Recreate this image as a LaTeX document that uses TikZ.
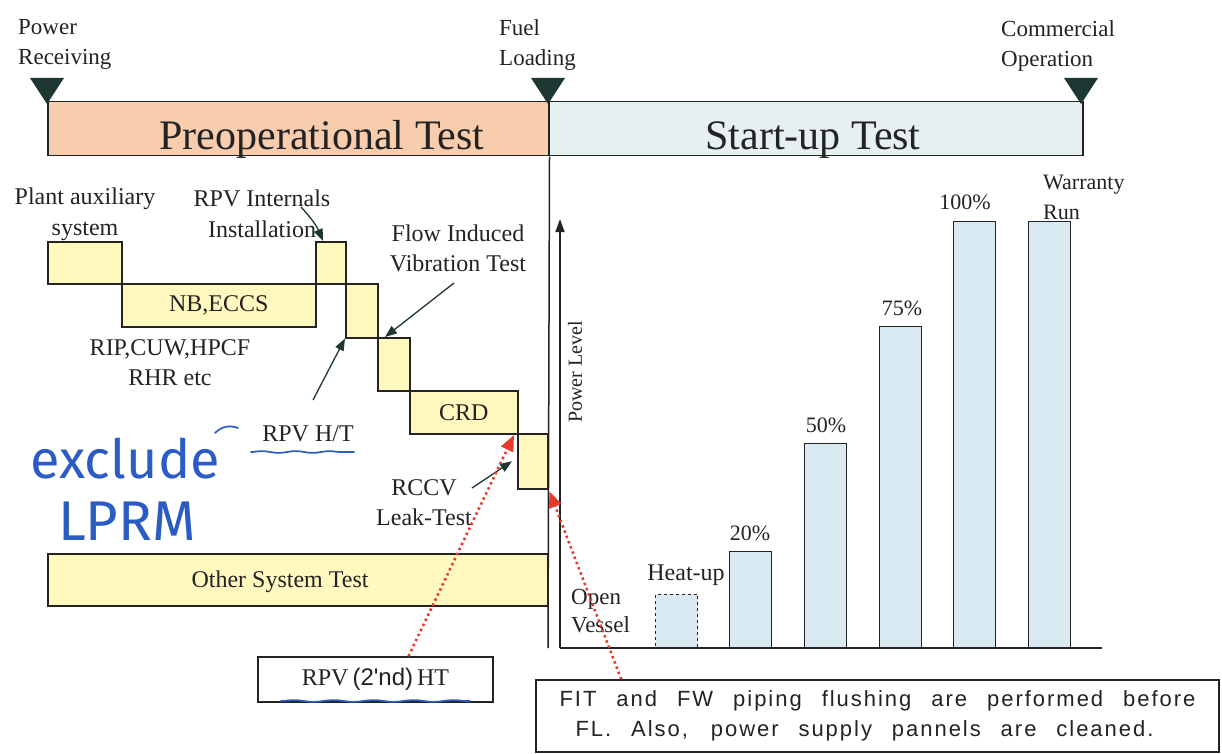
\documentclass[tikz,border=0pt]{standalone}
\usepackage{fontspec}
\setmainfont{Liberation Serif}
\newfontfamily\notefont{Liberation Sans}
\newfontfamily\spacednote[LetterSpace=9]{Liberation Sans}
\newfontfamily\inkfont{Fira Sans}
\usetikzlibrary{arrows.meta,decorations.pathmorphing,calc}
\definecolor{ink}{HTML}{232323}
\definecolor{peach}{HTML}{F7CDAE}
\definecolor{paleblue}{HTML}{E6F0F3}
\definecolor{barblue}{HTML}{D8E9F1}
\definecolor{pyellow}{HTML}{FFF8BF}
\definecolor{marker}{HTML}{1D3833}
\definecolor{redink}{HTML}{E63B2B}
\definecolor{pen}{HTML}{2A5CC4}
\begin{document}
\begin{tikzpicture}[x=1pt,y=-1pt,
  every node/.style={text=ink},
  frame/.style={draw=ink, line width=1.5, inner sep=0, anchor=north west},
  ybox/.style={frame, fill=pyellow},
  bar/.style={draw=ink, line width=1.4, fill=barblue, inner sep=0, anchor=south west, minimum width=42},
  lbl/.style={font=\fontsize{24}{31}\selectfont, align=center, inner sep=0},
  toplbl/.style={font=\fontsize{23}{30}\selectfont, align=left, inner sep=0, anchor=west},
  pct/.style={font=\fontsize{22}{28}\selectfont, inner sep=0},
  phase/.style={font=\fontsize{42}{50}\selectfont, inner sep=0, anchor=base},
  pointer/.style={draw=marker, line width=1.3, -{Triangle[length=12,width=9]}},
  redpointer/.style={draw=redink, line width=2.6, dash pattern=on 2.4 off 3.2, -{Triangle[length=16,width=13]}},
  scrawl/.style={draw=pen, line width=1.7, line cap=round}
]
% canvas
\path[use as bounding box, fill=white] (0,0) rectangle (1222,754);

% ---------- milestone bar ----------
\node[frame, fill=peach, minimum width=501, minimum height=54] (preop) at (47,101) {};
\node[frame, fill=paleblue, minimum width=534, minimum height=54] (startup) at (548,101) {};
\node[phase] (preoptxt) at (322,150) {Preoperational Test};
\node[phase] (startuptxt) at (813,150) {Start-up Test};
\foreach \x in {47,548,1081}
  \fill[marker] (\x-17,78) -- (\x+17,78) -- (\x,104) -- cycle;
\node[toplbl] (pr) at (18,44) {Power\\Receiving};
\node[toplbl] (fuel) at (499,45) {Fuel\\Loading};
\node[toplbl] (co) at (1001,46) {Commercial\\Operation};

% fuel loading line
\coordinate (flbottom) at (548,648);
\draw[ink, line width=1.5] (preop.south east) -- (flbottom);

% ---------- preoperational test steps ----------
\node[ybox, minimum width=74, minimum height=42] (plant) at (47,241) {};
\node[ybox, minimum width=194, minimum height=43, font=\fontsize{24}{31}\selectfont] (nb) at (121,283) {NB,ECCS};
\node[ybox, minimum width=30, minimum height=42] (boxa) at (315,241) {};
\node[ybox, minimum width=32, minimum height=54] (boxb) at (345,283) {};
\node[ybox, minimum width=32, minimum height=53] (boxc) at (377,337) {};
\node[ybox, minimum width=108, minimum height=43, font=\fontsize{24}{31}\selectfont] (crd) at (409,390) {CRD};
\node[ybox, minimum width=30, minimum height=55] (rccv) at (517,433) {};
\node[ybox, minimum width=500, minimum height=52] (other) at (47,553) {};
\node[lbl] (othertxt) at (280,582) {Other System Test};

\node[lbl] (plantlbl) at (85,214) {Plant auxiliary\\system};
\node[lbl] (intlbl) at (262,214) {RPV Internals\\Installation};
\node[lbl, font=\fontsize{24}{30}\selectfont] (fivlbl) at (458,248) {Flow Induced\\Vibration Test};
\node[lbl, font=\fontsize{24}{30}\selectfont] (riplbl) at (170,363) {RIP,CUW,HPCF\\RHR etc};
\node[lbl] (htlbl) at (308,434) {RPV H/T};
\node[lbl, font=\fontsize{24}{30}\selectfont] (rccvlbl) at (424,503) {RCCV\\Leak-Test};

% pointers
\coordinate (inttail) at (301,207);
\coordinate (fivtail) at (454,283);
\coordinate (httail) at (313,400);
\coordinate (rccvtail) at (472,488);
\draw[pointer] (inttail) to[bend left=10] ([xshift=8]boxa.north west);
\draw[pointer] (fivtail) -- ([xshift=8]boxc.north west);
\draw[pointer] (httail) -- (boxb.south west);
\draw[pointer] (rccvtail) -- ([xshift=-5]rccv.west);

% ---------- start-up power ascension ----------
\coordinate (orig) at (560,648);
\coordinate (ytop) at (560,219);
\coordinate (xend) at (1102,648);
\draw[draw=ink, line width=1.5, -{Triangle[length=13,width=9]}] (orig) -- (ytop);
\draw[ink, line width=1.5] (orig) -- (xend);
\node[font=\fontsize{20}{24}\selectfont, rotate=90, inner sep=0] (plevel) at (575,372) {Power Level};

\node[bar, dashed, minimum height=53] (ov) at (655,648) {};
\node[bar, minimum height=96] (p20) at (729,648) {};
\node[bar, minimum height=204] (p50) at (804,648) {};
\node[bar, minimum height=321] (p75) at (879,648) {};
\node[bar, minimum height=426] (p100) at (953,648) {};
\node[bar, minimum height=426] (wr) at (1028,648) {};

\node[font=\fontsize{23}{28}\selectfont, align=left, inner sep=0, anchor=west] (ovlbl) at (571,611) {Open\\Vessel};
\node[pct, font=\fontsize{24}{28}\selectfont] (hulbl) at (686,575) {Heat-up};
\node[pct] (l20) at (750,533) {20\%};
\node[pct] (l50) at (826,425) {50\%};
\node[pct] (l75) at (902,308) {75\%};
\node[pct] (l100) at (965,202) {100\%};
\node[font=\fontsize{22}{30}\selectfont, align=left, inner sep=0, anchor=west] (wrlbl) at (1043,197) {Warranty\\Run};

% ---------- notes ----------
\node[draw=ink, line width=1.5, minimum width=235, minimum height=45, inner sep=0,
      font=\fontsize{24}{30}\selectfont] (rpv2) at (375.5,679.5) {RPV{\notefont\,(2'nd)\,}HT};
\node[draw=ink, line width=1.5, minimum width=683, minimum height=72, inner sep=0,
      font=\spacednote\fontsize{22}{30}\selectfont, align=left] (fit) at (877.5,716)
  {\makebox[636pt][s]{FIT and FW piping flushing are performed before}\\
   \hspace*{16pt}\makebox[578pt][s]{FL. Also, power supply pannels are cleaned.}};

\draw[redpointer] ([xshift=33]rpv2.north) -- ([xshift=-3,yshift=-2]rccv.north west);
\draw[redpointer] ([xshift=86]fit.north west) -- ([xshift=1,yshift=-2]rccv.south east);

% ---------- pen annotations ----------
\node[font=\inkfont\fontsize{54}{60}\selectfont, text=pen, inner sep=0, anchor=base] (excl) at (125,478) {exclude};
\node[font=\inkfont\fontsize{56}{60}\selectfont, text=pen, inner sep=0, anchor=base] (lprm) at (127,540) {LPRM};
\draw[scrawl] (215,433) .. controls (222,426) and (230,425) .. (238,428);
\draw[scrawl, decorate, decoration={snake, amplitude=0.9, segment length=34}] (251,452) -- (354,452);
\draw[scrawl, decorate, decoration={snake, amplitude=0.9, segment length=40}] (281,701) -- (470,701);
\end{tikzpicture}
\end{document}
